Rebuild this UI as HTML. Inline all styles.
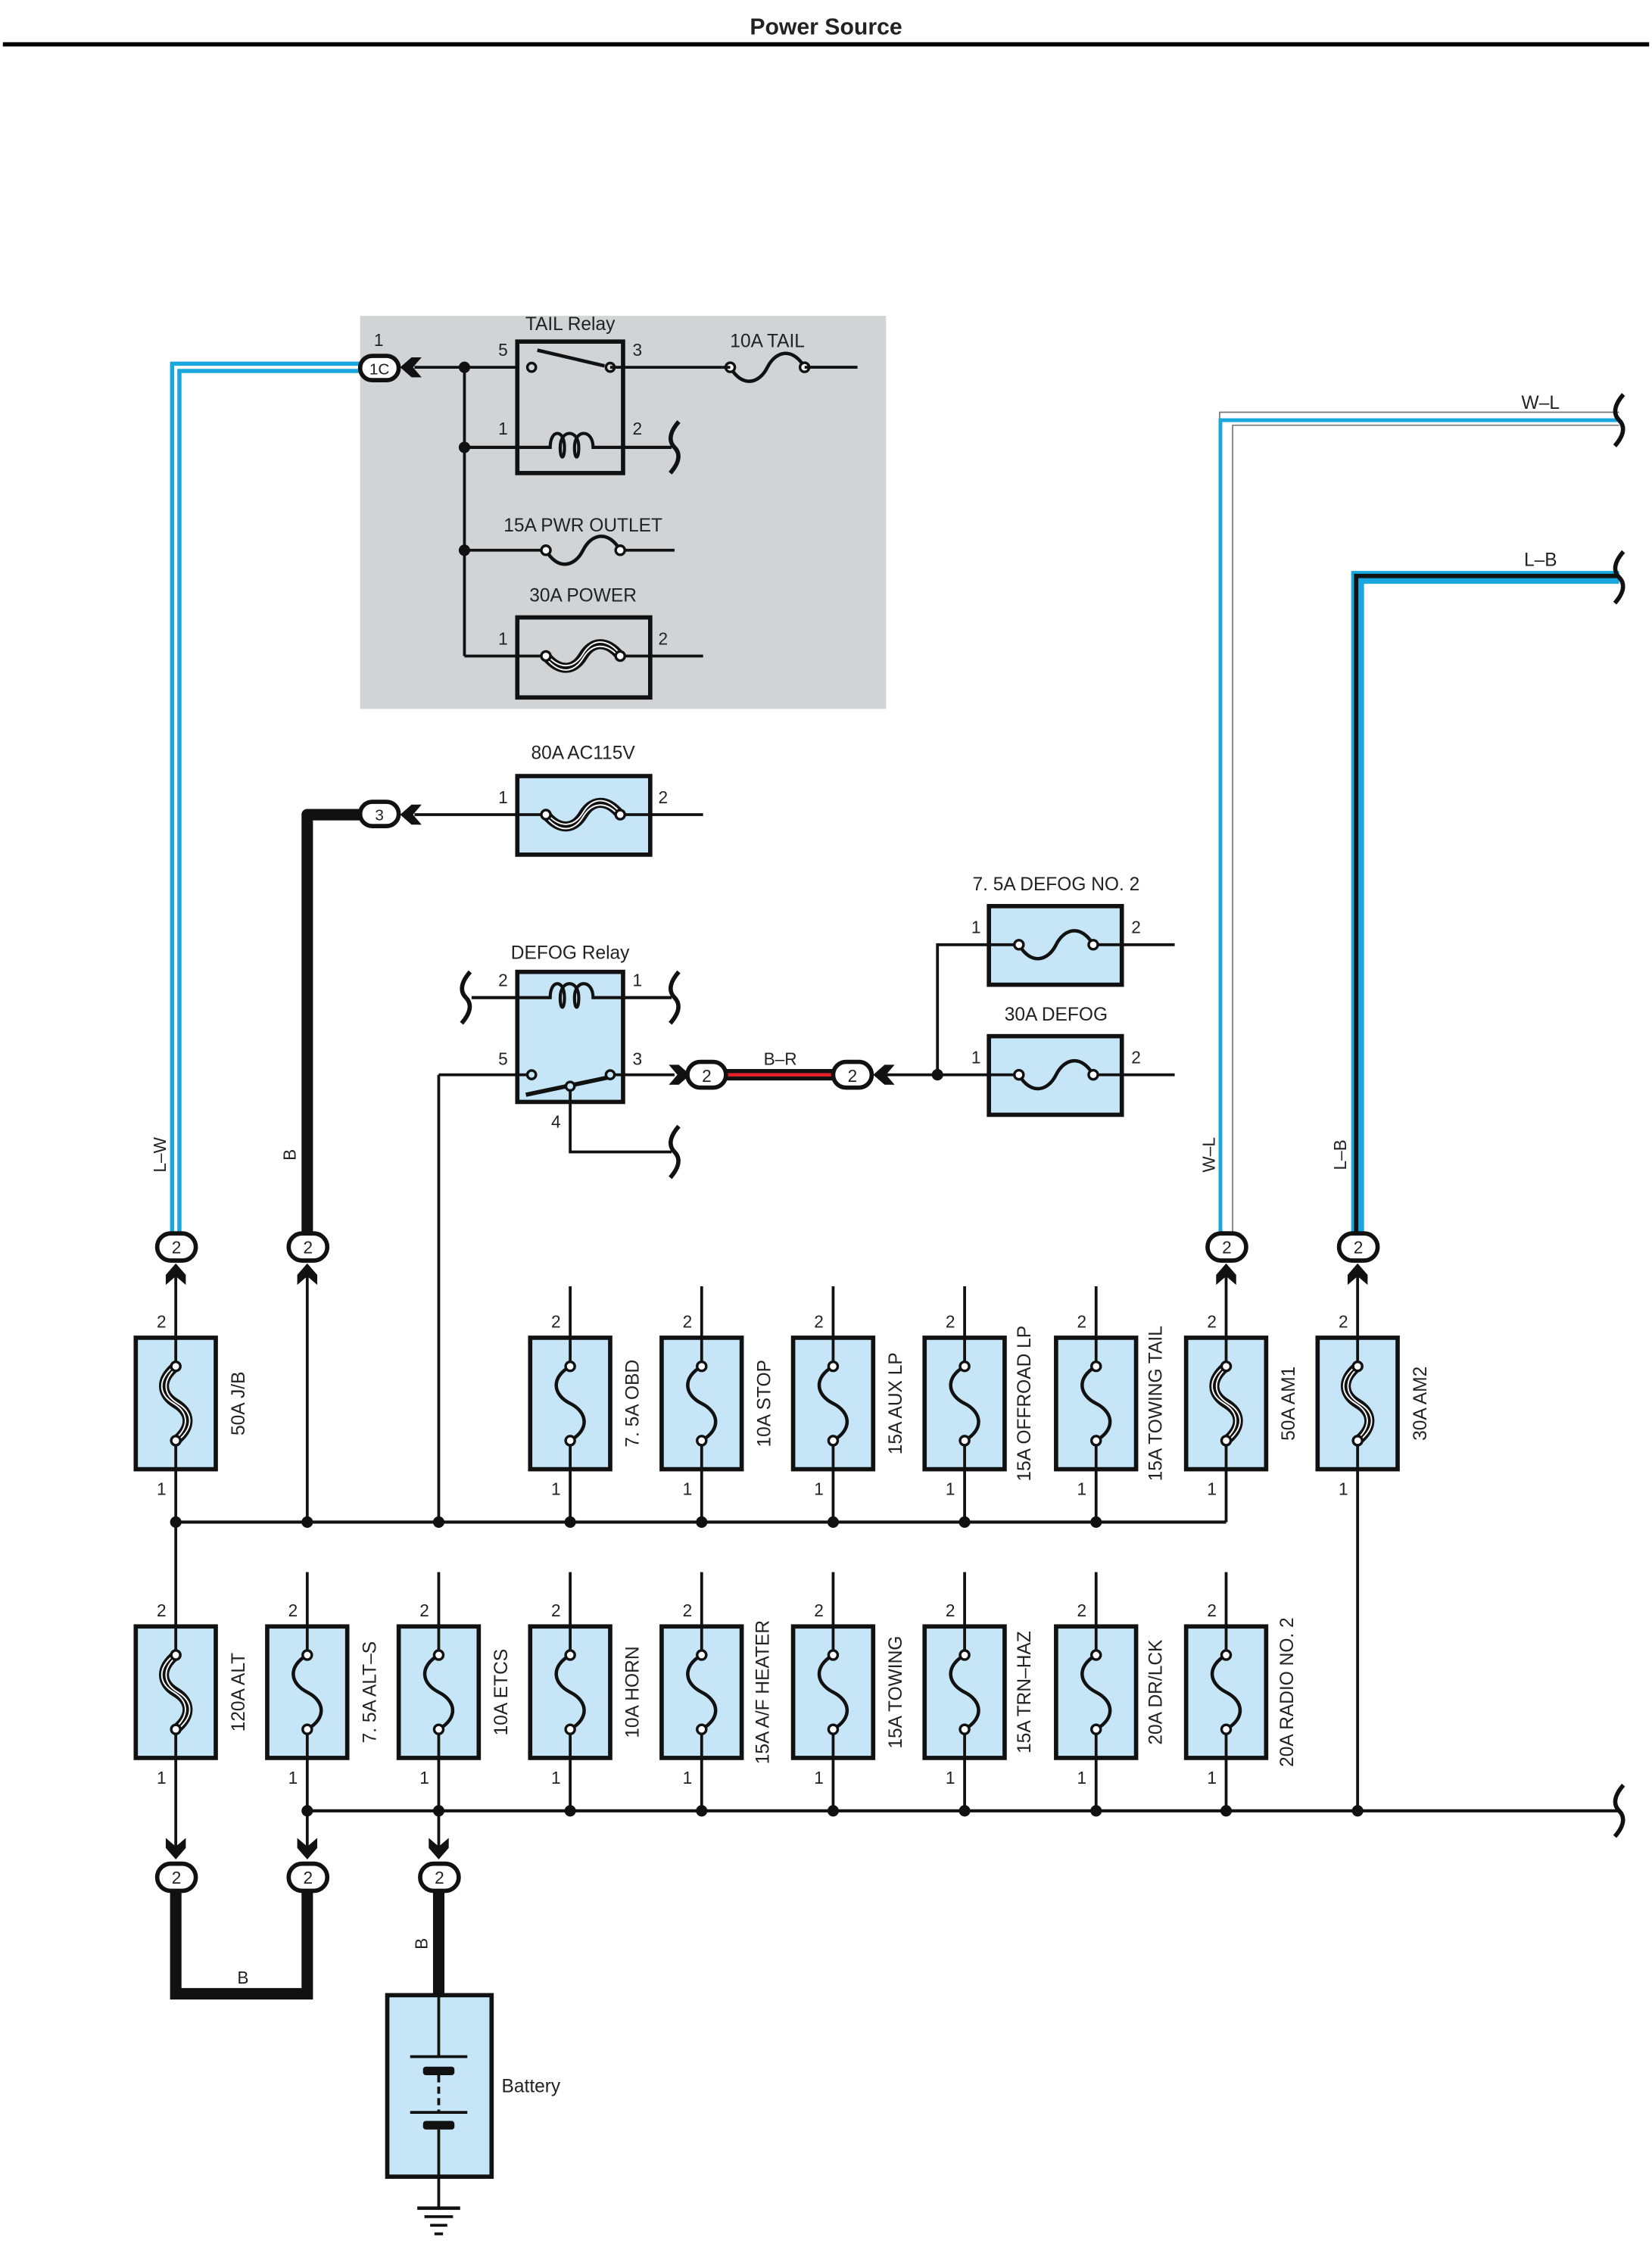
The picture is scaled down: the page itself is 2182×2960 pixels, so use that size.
<!DOCTYPE html>
<html><head><meta charset="utf-8"><style>
html,body{margin:0;padding:0;background:#fff;}
svg{display:block;}
text{font-family:"Liberation Sans",sans-serif;fill:#222;}
</style></head><body>
<svg width="2182" height="2960" viewBox="0 0 1156 1568" preserveAspectRatio="none" xmlns="http://www.w3.org/2000/svg">
<defs>
<g id="sf">
<path d="M0,-26 C-14,-18 -12,-6 0,0 C12,6 14,18 0,26" fill="none" stroke="#111" stroke-width="2.4"/>
<circle cx="0" cy="-26" r="3.2" fill="#fff" stroke="#111" stroke-width="1.8"/>
<circle cx="0" cy="26" r="3.2" fill="#fff" stroke="#111" stroke-width="1.8"/>
</g>
<g id="bf">
<path d="M0,-26 C-12,-16 -10,-6 0,0 C10,6 12,16 0,26" fill="none" stroke="#111" stroke-width="7"/>
<path d="M0,-26 C-12,-16 -10,-6 0,0 C10,6 12,16 0,26" fill="none" stroke="#fff" stroke-width="1" transform="translate(-1.5,0)"/>
<path d="M0,-26 C-12,-16 -10,-6 0,0 C10,6 12,16 0,26" fill="none" stroke="#fff" stroke-width="1" transform="translate(1.5,0)"/>
<circle cx="0" cy="-26" r="3.2" fill="#fff" stroke="#111" stroke-width="1.8"/>
<circle cx="0" cy="26" r="3.2" fill="#fff" stroke="#111" stroke-width="1.8"/>
</g>
<g id="arU"><polygon points="0,-7 7,1 7,8 0,2 -7,8 -7,1" fill="#111"/></g>
<g id="brk"><path d="M3,-18 C-4,-10 -4,-4 0,0 C4,4 4,10 -3,18" fill="none" stroke="#111" stroke-width="3"/></g>
</defs>

<text x="578" y="24" font-size="16" font-weight="bold" text-anchor="middle" fill="#000">Power Source</text>
<line x1="2" y1="31" x2="1154" y2="31" stroke="#000" stroke-width="3"/>

<!-- gray box -->
<rect x="252" y="221" width="368" height="275" fill="#d1d3d4"/>

<!-- L-W wire -->
<path d="M255,257 H123 V862" fill="none" stroke="#1aa7e0" stroke-width="8"/>
<path d="M255,257 H123 V862" fill="none" stroke="#fff" stroke-width="2.2"/>
<!-- B wire upper -->
<path d="M255,570 H215 V862" fill="none" stroke="#111" stroke-width="8" stroke-linejoin="round"/>
<!-- W-L wire -->
<path d="M858,864 V293 H1133" fill="none" stroke="#777" stroke-width="10"/>
<path d="M858,864 V293 H1133" fill="none" stroke="#fff" stroke-width="8.2"/>
<path d="M854,864 V296 H1133" fill="none" stroke="#1aa7e0" stroke-width="2.6" transform="translate(0,-2)"/>
<!-- L-B wire -->
<path d="M950,864 V404 H1133" fill="none" stroke="#1aa7e0" stroke-width="9"/>
<path d="M950,864 V404 H1133" fill="none" stroke="#111" stroke-width="3" transform="translate(-1,-1)"/>
<use href="#brk" x="1133" y="294"/>
<use href="#brk" x="1133" y="404"/>
<text x="1078" y="286" font-size="13" text-anchor="middle">W–L</text>
<text x="1078" y="396" font-size="13" text-anchor="middle">L–B</text>

<!-- 1C connector -->
<rect x="252" y="249" width="27" height="17" rx="8.5" fill="#fff" stroke="#111" stroke-width="3"/>
<text x="265.5" y="262" font-size="11" text-anchor="middle">1C</text>
<text x="265" y="242" font-size="12" text-anchor="middle">1</text>
<g transform="translate(287,257) rotate(-90)"><use href="#arU"/></g>
<line x1="290" y1="257" x2="362" y2="257" stroke="#111" stroke-width="2"/>
<line x1="325" y1="257" x2="325" y2="459" stroke="#111" stroke-width="2"/>
<circle cx="325" cy="257" r="4" fill="#111"/><circle cx="325" cy="313" r="4" fill="#111"/><circle cx="325" cy="385" r="4" fill="#111"/>

<!-- TAIL relay -->
<text x="399" y="231" font-size="13" text-anchor="middle">TAIL Relay</text>
<rect x="362" y="239" width="74" height="92" fill="none" stroke="#111" stroke-width="3"/>
<text x="352" y="249" font-size="12" text-anchor="middle">5</text>
<text x="446" y="249" font-size="12" text-anchor="middle">3</text>
<text x="352" y="304" font-size="12" text-anchor="middle">1</text>
<text x="446" y="304" font-size="12" text-anchor="middle">2</text>
<line x1="376" y1="245" x2="423" y2="256" stroke="#111" stroke-width="2.4"/>
<circle cx="372" cy="257" r="3" fill="#d1d3d4" stroke="#111" stroke-width="1.8"/>
<circle cx="427" cy="257" r="3" fill="#d1d3d4" stroke="#111" stroke-width="1.8"/>
<line x1="427" y1="257" x2="600" y2="257" stroke="#111" stroke-width="2"/>
<path d="M325,313 H385 C385,300 395,300 395,313 C395,322 392,322 392,313 C392,300 405,300 405,313 C405,322 402,322 402,313 C402,300 415,300 415,313 H470" fill="none" stroke="#111" stroke-width="2.2"/>
<use href="#brk" x="472" y="313"/>
<text x="537" y="243" font-size="13" text-anchor="middle">10A TAIL</text>
<rect x="505" y="250" width="60" height="14" fill="#d1d3d4"/>
<g transform="translate(537,257) rotate(-90)"><use href="#sf"/></g>
<line x1="505" y1="257" x2="511" y2="257" stroke="#111" stroke-width="2"/>
<line x1="563" y1="257" x2="600" y2="257" stroke="#111" stroke-width="2"/>

<!-- PWR OUTLET -->
<text x="408" y="372" font-size="13" text-anchor="middle">15A PWR OUTLET</text>
<line x1="325" y1="385" x2="382" y2="385" stroke="#111" stroke-width="2"/>
<line x1="434" y1="385" x2="472" y2="385" stroke="#111" stroke-width="2"/>
<g transform="translate(408,385) rotate(-90)"><use href="#sf"/></g>

<!-- 30A POWER -->
<text x="408" y="421" font-size="13" text-anchor="middle">30A POWER</text>
<rect x="362" y="432" width="93" height="56" fill="none" stroke="#111" stroke-width="3"/>
<line x1="325" y1="459" x2="382" y2="459" stroke="#111" stroke-width="2"/>
<line x1="434" y1="459" x2="492" y2="459" stroke="#111" stroke-width="2"/>
<g transform="translate(408,459) rotate(-90)"><use href="#bf"/></g>
<text x="352" y="451" font-size="12" text-anchor="middle">1</text>
<text x="464" y="451" font-size="12" text-anchor="middle">2</text>

<!-- 80A AC115V -->
<text x="408" y="531" font-size="13" text-anchor="middle">80A AC115V</text>
<rect x="362" y="543" width="93" height="55" fill="#c6e6f8" stroke="#111" stroke-width="3"/>
<line x1="290" y1="570" x2="382" y2="570" stroke="#111" stroke-width="2"/>
<line x1="434" y1="570" x2="492" y2="570" stroke="#111" stroke-width="2"/>
<g transform="translate(408,570) rotate(-90)"><use href="#bf"/></g>
<text x="352" y="562" font-size="12" text-anchor="middle">1</text>
<text x="464" y="562" font-size="12" text-anchor="middle">2</text>
<rect x="252" y="561" width="27" height="17" rx="8.5" fill="#fff" stroke="#111" stroke-width="3"/>
<text x="265.5" y="574" font-size="11" text-anchor="middle">3</text>
<g transform="translate(287,570) rotate(-90)"><use href="#arU"/></g>

<!-- DEFOG relay -->
<text x="399" y="671" font-size="13" text-anchor="middle">DEFOG Relay</text>
<rect x="362" y="680" width="74" height="91" fill="#c6e6f8" stroke="#111" stroke-width="3"/>
<path d="M330,698 H385 C385,685 395,685 395,698 C395,707 392,707 392,698 C392,685 405,685 405,698 C405,707 402,707 402,698 C402,685 415,685 415,698 H470" fill="none" stroke="#111" stroke-width="2.2"/>
<use href="#brk" x="326" y="698"/><use href="#brk" x="472" y="698"/>
<text x="352" y="690" font-size="12" text-anchor="middle">2</text>
<text x="446" y="690" font-size="12" text-anchor="middle">1</text>
<text x="352" y="745" font-size="12" text-anchor="middle">5</text>
<text x="446" y="745" font-size="12" text-anchor="middle">3</text>
<text x="389" y="789" font-size="12" text-anchor="middle">4</text>
<line x1="307" y1="752" x2="369" y2="752" stroke="#111" stroke-width="2"/>
<line x1="430" y1="752" x2="472" y2="752" stroke="#111" stroke-width="2"/>
<line x1="368" y1="766" x2="425" y2="754" stroke="#111" stroke-width="3"/>
<circle cx="372" cy="752" r="3" fill="#c6e6f8" stroke="#111" stroke-width="1.8"/>
<circle cx="427" cy="752" r="3" fill="#c6e6f8" stroke="#111" stroke-width="1.8"/>
<circle cx="399" cy="760" r="3" fill="#c6e6f8" stroke="#111" stroke-width="1.8"/>
<path d="M399,763 V806 H470" fill="none" stroke="#111" stroke-width="2"/>
<use href="#brk" x="472" y="806"/>
<line x1="307" y1="752" x2="307" y2="1065" stroke="#111" stroke-width="2"/>
<!-- B-R -->
<g transform="translate(476,752) rotate(90)"><use href="#arU"/></g>
<line x1="505" y1="752" x2="586" y2="752" stroke="#111" stroke-width="8"/>
<line x1="505" y1="752" x2="586" y2="752" stroke="#e8202a" stroke-width="2.4"/>
<rect x="481" y="743" width="27" height="18" rx="9" fill="#fff" stroke="#111" stroke-width="3"/>
<text x="494.5" y="757" font-size="12" text-anchor="middle">2</text>
<rect x="583" y="743" width="27" height="18" rx="9" fill="#fff" stroke="#111" stroke-width="3"/>
<text x="596.5" y="757" font-size="12" text-anchor="middle">2</text>
<text x="546" y="745" font-size="12" text-anchor="middle">B–R</text>
<g transform="translate(618,752) rotate(-90)"><use href="#arU"/></g>
<line x1="620" y1="752" x2="692" y2="752" stroke="#111" stroke-width="2"/>
<path d="M692,661 H656 V752" fill="none" stroke="#111" stroke-width="2"/>
<circle cx="656" cy="752" r="4" fill="#111"/>

<!-- DEFOG fuses -->
<text x="739" y="623" font-size="13" text-anchor="middle">7. 5A DEFOG NO. 2</text>
<rect x="692" y="634" width="93" height="55" fill="#c6e6f8" stroke="#111" stroke-width="3"/>
<line x1="692" y1="661" x2="713" y2="661" stroke="#111" stroke-width="2"/>
<line x1="765" y1="661" x2="822" y2="661" stroke="#111" stroke-width="2"/>
<g transform="translate(739,661) rotate(-90)"><use href="#sf"/></g>
<text x="683" y="653" font-size="12" text-anchor="middle">1</text>
<text x="795" y="653" font-size="12" text-anchor="middle">2</text>
<text x="739" y="714" font-size="13" text-anchor="middle">30A DEFOG</text>
<rect x="692" y="725" width="93" height="55" fill="#c6e6f8" stroke="#111" stroke-width="3"/>
<line x1="692" y1="752" x2="713" y2="752" stroke="#111" stroke-width="2"/>
<line x1="765" y1="752" x2="822" y2="752" stroke="#111" stroke-width="2"/>
<g transform="translate(739,752) rotate(-90)"><use href="#sf"/></g>
<text x="683" y="744" font-size="12" text-anchor="middle">1</text>
<text x="795" y="744" font-size="12" text-anchor="middle">2</text>

<!-- wire labels -->
<text transform="translate(116,808) rotate(-90)" font-size="12" text-anchor="middle">L–W</text>
<text transform="translate(207,808) rotate(-90)" font-size="12" text-anchor="middle">B</text>
<text transform="translate(850,808) rotate(-90)" font-size="12" text-anchor="middle">W–L</text>
<text transform="translate(942,808) rotate(-90)" font-size="12" text-anchor="middle">L–B</text>

<!-- top connectors -->
<g>
<rect x="110" y="863" width="27" height="19" rx="9.5" fill="#fff" stroke="#111" stroke-width="3"/><text x="123.5" y="877" font-size="12" text-anchor="middle">2</text>
<rect x="202" y="863" width="27" height="19" rx="9.5" fill="#fff" stroke="#111" stroke-width="3"/><text x="215.5" y="877" font-size="12" text-anchor="middle">2</text>
<rect x="845" y="863" width="27" height="19" rx="9.5" fill="#fff" stroke="#111" stroke-width="3"/><text x="858.5" y="877" font-size="12" text-anchor="middle">2</text>
<rect x="937" y="863" width="27" height="19" rx="9.5" fill="#fff" stroke="#111" stroke-width="3"/><text x="950.5" y="877" font-size="12" text-anchor="middle">2</text>
<use href="#arU" x="123" y="891"/><use href="#arU" x="215" y="891"/><use href="#arU" x="858" y="891"/><use href="#arU" x="950" y="891"/>
</g>
<line x1="215" y1="890" x2="215" y2="1065" stroke="#111" stroke-width="2"/>

<!-- top bus -->
<line x1="123" y1="1065" x2="858" y2="1065" stroke="#111" stroke-width="2.2"/>
<line x1="123" y1="1065" x2="123" y2="1138" stroke="#111" stroke-width="2"/>
<g fill="#111">
<circle cx="123" cy="1065" r="4"/><circle cx="215" cy="1065" r="4"/><circle cx="307" cy="1065" r="4"/><circle cx="399" cy="1065" r="4"/><circle cx="491" cy="1065" r="4"/><circle cx="583" cy="1065" r="4"/><circle cx="675" cy="1065" r="4"/><circle cx="767" cy="1065" r="4"/>
</g>

<!-- top fuses: lines -->
<g stroke="#111" stroke-width="2">
<line x1="123" y1="890" x2="123" y2="956"/><line x1="123" y1="1008" x2="123" y2="1065"/>
<line x1="399" y1="900" x2="399" y2="956"/><line x1="399" y1="1008" x2="399" y2="1065"/>
<line x1="491" y1="900" x2="491" y2="956"/><line x1="491" y1="1008" x2="491" y2="1065"/>
<line x1="583" y1="900" x2="583" y2="956"/><line x1="583" y1="1008" x2="583" y2="1065"/>
<line x1="675" y1="900" x2="675" y2="956"/><line x1="675" y1="1008" x2="675" y2="1065"/>
<line x1="767" y1="900" x2="767" y2="956"/><line x1="767" y1="1008" x2="767" y2="1065"/>
<line x1="858" y1="890" x2="858" y2="956"/><line x1="858" y1="1008" x2="858" y2="1065"/>
<line x1="950" y1="890" x2="950" y2="956"/><line x1="950" y1="1008" x2="950" y2="1267"/>
</g>
<g fill="#c6e6f8" stroke="#111" stroke-width="3">
<rect x="95" y="936" width="56" height="92"/><rect x="371" y="936" width="56" height="92"/><rect x="463" y="936" width="56" height="92"/><rect x="555" y="936" width="56" height="92"/><rect x="647" y="936" width="56" height="92"/><rect x="739" y="936" width="56" height="92"/><rect x="830" y="936" width="56" height="92"/><rect x="922" y="936" width="56" height="92"/>
</g>
<g stroke="#111" stroke-width="2">
<line x1="123" y1="936" x2="123" y2="956"/><line x1="123" y1="1008" x2="123" y2="1028"/>
<line x1="399" y1="936" x2="399" y2="956"/><line x1="399" y1="1008" x2="399" y2="1028"/>
<line x1="491" y1="936" x2="491" y2="956"/><line x1="491" y1="1008" x2="491" y2="1028"/>
<line x1="583" y1="936" x2="583" y2="956"/><line x1="583" y1="1008" x2="583" y2="1028"/>
<line x1="675" y1="936" x2="675" y2="956"/><line x1="675" y1="1008" x2="675" y2="1028"/>
<line x1="767" y1="936" x2="767" y2="956"/><line x1="767" y1="1008" x2="767" y2="1028"/>
<line x1="858" y1="936" x2="858" y2="956"/><line x1="858" y1="1008" x2="858" y2="1028"/>
<line x1="950" y1="936" x2="950" y2="956"/><line x1="950" y1="1008" x2="950" y2="1028"/>
</g>
<use href="#bf" x="123" y="982"/><use href="#sf" x="399" y="982"/><use href="#sf" x="491" y="982"/><use href="#sf" x="583" y="982"/><use href="#sf" x="675" y="982"/><use href="#sf" x="767" y="982"/><use href="#bf" x="858" y="982"/><use href="#bf" x="950" y="982"/>
<g font-size="12" text-anchor="middle">
<text x="113" y="929">2</text><text x="113" y="1046">1</text>
<text x="389" y="929">2</text><text x="389" y="1046">1</text>
<text x="481" y="929">2</text><text x="481" y="1046">1</text>
<text x="573" y="929">2</text><text x="573" y="1046">1</text>
<text x="665" y="929">2</text><text x="665" y="1046">1</text>
<text x="757" y="929">2</text><text x="757" y="1046">1</text>
<text x="848" y="929">2</text><text x="848" y="1046">1</text>
<text x="940" y="929">2</text><text x="940" y="1046">1</text>
</g>
<g font-size="13" text-anchor="middle">
<text transform="translate(171,982) rotate(-90)">50A J/B</text>
<text transform="translate(447,982) rotate(-90)">7. 5A OBD</text>
<text transform="translate(539,982) rotate(-90)">10A STOP</text>
<text transform="translate(631,982) rotate(-90)">15A AUX LP</text>
<text transform="translate(721,982) rotate(-90)">15A OFFROAD LP</text>
<text transform="translate(813,982) rotate(-90)">15A TOWING TAIL</text>
<text transform="translate(906,982) rotate(-90)">50A AM1</text>
<text transform="translate(998,982) rotate(-90)">30A AM2</text>
</g>

<!-- bottom row -->
<g stroke="#111" stroke-width="2">
<line x1="123" y1="1138" x2="123" y2="1158"/><line x1="123" y1="1210" x2="123" y2="1292"/>
<line x1="215" y1="1100" x2="215" y2="1158"/><line x1="215" y1="1210" x2="215" y2="1292"/>
<line x1="307" y1="1100" x2="307" y2="1158"/><line x1="307" y1="1210" x2="307" y2="1292"/>
<line x1="399" y1="1100" x2="399" y2="1158"/><line x1="399" y1="1210" x2="399" y2="1267"/>
<line x1="491" y1="1100" x2="491" y2="1158"/><line x1="491" y1="1210" x2="491" y2="1267"/>
<line x1="583" y1="1100" x2="583" y2="1158"/><line x1="583" y1="1210" x2="583" y2="1267"/>
<line x1="675" y1="1100" x2="675" y2="1158"/><line x1="675" y1="1210" x2="675" y2="1267"/>
<line x1="767" y1="1100" x2="767" y2="1158"/><line x1="767" y1="1210" x2="767" y2="1267"/>
<line x1="858" y1="1100" x2="858" y2="1158"/><line x1="858" y1="1210" x2="858" y2="1267"/>
</g>
<line x1="215" y1="1267" x2="1133" y2="1267" stroke="#111" stroke-width="2.2"/>
<use href="#brk" x="1133" y="1267"/>
<g fill="#111">
<circle cx="215" cy="1267" r="4"/><circle cx="307" cy="1267" r="4"/><circle cx="399" cy="1267" r="4"/><circle cx="491" cy="1267" r="4"/><circle cx="583" cy="1267" r="4"/><circle cx="675" cy="1267" r="4"/><circle cx="767" cy="1267" r="4"/><circle cx="858" cy="1267" r="4"/><circle cx="950" cy="1267" r="4"/>
</g>
<g fill="#c6e6f8" stroke="#111" stroke-width="3">
<rect x="95" y="1138" width="56" height="92"/><rect x="187" y="1138" width="56" height="92"/><rect x="279" y="1138" width="56" height="92"/><rect x="371" y="1138" width="56" height="92"/><rect x="463" y="1138" width="56" height="92"/><rect x="555" y="1138" width="56" height="92"/><rect x="647" y="1138" width="56" height="92"/><rect x="739" y="1138" width="56" height="92"/><rect x="830" y="1138" width="56" height="92"/>
</g>
<g stroke="#111" stroke-width="2">
<line x1="123" y1="1138" x2="123" y2="1158"/><line x1="123" y1="1210" x2="123" y2="1230"/>
<line x1="215" y1="1138" x2="215" y2="1158"/><line x1="215" y1="1210" x2="215" y2="1230"/>
<line x1="307" y1="1138" x2="307" y2="1158"/><line x1="307" y1="1210" x2="307" y2="1230"/>
<line x1="399" y1="1138" x2="399" y2="1158"/><line x1="399" y1="1210" x2="399" y2="1230"/>
<line x1="491" y1="1138" x2="491" y2="1158"/><line x1="491" y1="1210" x2="491" y2="1230"/>
<line x1="583" y1="1138" x2="583" y2="1158"/><line x1="583" y1="1210" x2="583" y2="1230"/>
<line x1="675" y1="1138" x2="675" y2="1158"/><line x1="675" y1="1210" x2="675" y2="1230"/>
<line x1="767" y1="1138" x2="767" y2="1158"/><line x1="767" y1="1210" x2="767" y2="1230"/>
<line x1="858" y1="1138" x2="858" y2="1158"/><line x1="858" y1="1210" x2="858" y2="1230"/>
</g>
<use href="#bf" x="123" y="1184"/><use href="#sf" x="215" y="1184"/><use href="#sf" x="307" y="1184"/><use href="#sf" x="399" y="1184"/><use href="#sf" x="491" y="1184"/><use href="#sf" x="583" y="1184"/><use href="#sf" x="675" y="1184"/><use href="#sf" x="767" y="1184"/><use href="#sf" x="858" y="1184"/>
<g font-size="12" text-anchor="middle">
<text x="113" y="1131">2</text><text x="113" y="1248">1</text>
<text x="205" y="1131">2</text><text x="205" y="1248">1</text>
<text x="297" y="1131">2</text><text x="297" y="1248">1</text>
<text x="389" y="1131">2</text><text x="389" y="1248">1</text>
<text x="481" y="1131">2</text><text x="481" y="1248">1</text>
<text x="573" y="1131">2</text><text x="573" y="1248">1</text>
<text x="665" y="1131">2</text><text x="665" y="1248">1</text>
<text x="757" y="1131">2</text><text x="757" y="1248">1</text>
<text x="848" y="1131">2</text><text x="848" y="1248">1</text>
</g>
<g font-size="13" text-anchor="middle">
<text transform="translate(171,1184) rotate(-90)">120A ALT</text>
<text transform="translate(263,1184) rotate(-90)">7. 5A ALT–S</text>
<text transform="translate(355,1184) rotate(-90)">10A ETCS</text>
<text transform="translate(447,1184) rotate(-90)">10A HORN</text>
<text transform="translate(538,1184) rotate(-90)">15A A/F HEATER</text>
<text transform="translate(631,1184) rotate(-90)">15A TOWING</text>
<text transform="translate(721,1184) rotate(-90)">15A TRN–HAZ</text>
<text transform="translate(813,1184) rotate(-90)">20A DR/LCK</text>
<text transform="translate(905,1184) rotate(-90)">20A RADIO NO. 2</text>
</g>

<!-- bottom connectors & B wires -->
<path d="M123,1320 V1395 H215 V1320" fill="none" stroke="#111" stroke-width="8"/>
<line x1="307" y1="1320" x2="307" y2="1397" stroke="#111" stroke-width="8"/>
<g transform="translate(123,1294) rotate(180)"><use href="#arU"/></g>
<g transform="translate(215,1294) rotate(180)"><use href="#arU"/></g>
<g transform="translate(307,1294) rotate(180)"><use href="#arU"/></g>
<rect x="110" y="1304" width="27" height="19" rx="9.5" fill="#fff" stroke="#111" stroke-width="3"/><text x="123.5" y="1318" font-size="12" text-anchor="middle">2</text>
<rect x="202" y="1304" width="27" height="19" rx="9.5" fill="#fff" stroke="#111" stroke-width="3"/><text x="215.5" y="1318" font-size="12" text-anchor="middle">2</text>
<rect x="294" y="1304" width="27" height="19" rx="9.5" fill="#fff" stroke="#111" stroke-width="3"/><text x="307.5" y="1318" font-size="12" text-anchor="middle">2</text>
<text x="170" y="1388" font-size="12" text-anchor="middle">B</text>
<text transform="translate(299,1360) rotate(-90)" font-size="12" text-anchor="middle">B</text>

<!-- battery -->
<rect x="271" y="1396" width="73" height="127" fill="#c6e6f8" stroke="#111" stroke-width="3"/>
<line x1="307" y1="1396" x2="307" y2="1439" stroke="#111" stroke-width="2"/>
<line x1="287" y1="1439" x2="327" y2="1439" stroke="#111" stroke-width="2"/>
<rect x="296" y="1446" width="22" height="6" rx="2" fill="#111"/>
<line x1="307" y1="1452" x2="307" y2="1478" stroke="#111" stroke-width="2" stroke-dasharray="5,3"/>
<line x1="287" y1="1478" x2="327" y2="1478" stroke="#111" stroke-width="2"/>
<rect x="296" y="1484" width="22" height="6" rx="2" fill="#111"/>
<line x1="307" y1="1490" x2="307" y2="1545" stroke="#111" stroke-width="2"/>
<line x1="292" y1="1545" x2="322" y2="1545" stroke="#111" stroke-width="2.4"/>
<line x1="297" y1="1551" x2="317" y2="1551" stroke="#111" stroke-width="2"/>
<line x1="301" y1="1557" x2="313" y2="1557" stroke="#111" stroke-width="2"/>
<line x1="304" y1="1563" x2="310" y2="1563" stroke="#111" stroke-width="2"/>
<text x="351" y="1464" font-size="13">Battery</text>
</svg>
</body></html>
